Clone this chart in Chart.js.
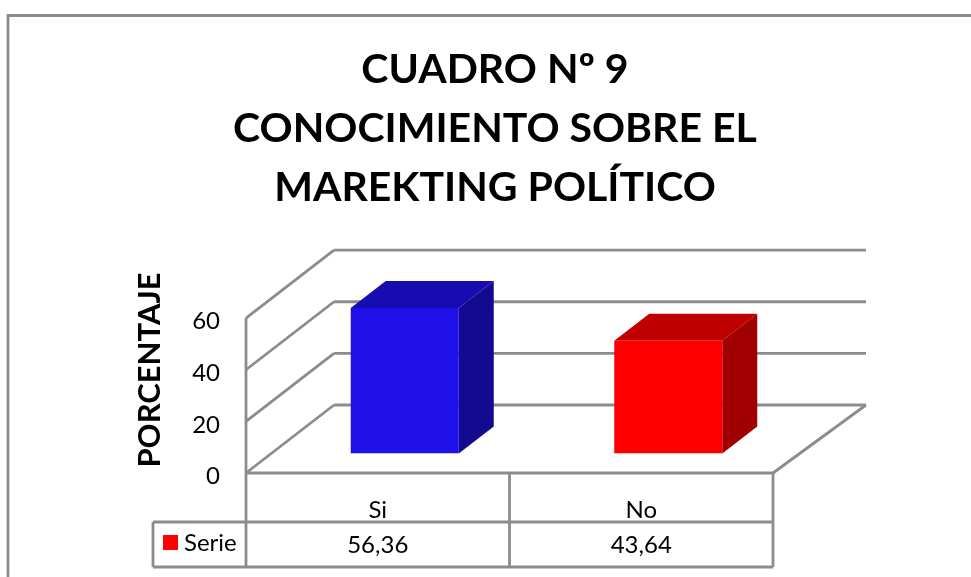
<!DOCTYPE html>
<html>
<head>
<meta charset="utf-8">
<title>Cuadro 9</title>
<script src="https://cdn.jsdelivr.net/npm/chart.js@4"></script>
<style>
    html, body { margin: 0; padding: 0; background: #fff; }
    canvas { display: block; }
</style>
</head>
<body>
<canvas id="grafico" width="971" height="577"></canvas>
<script>
var categories = ['Si', 'No'];
var seriesName = 'Serie';
var seriesValues = [56.36, 43.64];
var titleLines = ['CUADRO Nº 9', 'CONOCIMIENTO SOBRE EL', 'MAREKTING POLÍTICO'];
var yAxisTitle = 'PORCENTAJE';
var yTicks = [0, 20, 40, 60];
var faceColors = ['#2010e8', '#ff0000'];
var topColors = ['#160cb0', '#c00000'];
var sideColors = ['#140a90', '#a00000'];

var FONT = 'Lato, Carlito, sans-serif';
var LINE = '#8c8c8c';
var LINE_WIDTH = 2.8;

// 3D look: how far the back wall and the bars are pushed away from the front plane
var WALL_DX = 88, WALL_DY = -68;
var BAR_DX = 27, BAR_DY = -19.5;
var DEPTH_DX = 35, DEPTH_DY = -27;

function line(ctx, x1, y1, x2, y2) {
    ctx.beginPath();
    ctx.moveTo(x1, y1);
    ctx.lineTo(x2, y2);
    ctx.stroke();
}

var walls = {
    id: 'walls',
    beforeDraw: function (chart) {
        // the y scale is kept narrow so the title centres right; widen its clip for the tick labels
        chart.scales.y.left = 170;
    },
    beforeDatasetsDraw: function (chart) {
        var ctx = chart.ctx, a = chart.chartArea, y = chart.scales.y;
        ctx.save();
        ctx.strokeStyle = LINE;
        ctx.lineWidth = LINE_WIDTH;

        // outer frame, only left and top are inside the picture
        ctx.beginPath();
        ctx.moveTo(8, 577);
        ctx.lineTo(8, 15.5);
        ctx.lineTo(971, 15.5);
        ctx.stroke();

        yTicks.forEach(function (t) {
            var py = y.getPixelForValue(t);
            line(ctx, a.left, py, a.left + WALL_DX, py + WALL_DY);
            line(ctx, a.left + WALL_DX, py + WALL_DY, a.right + WALL_DX + 5, py + WALL_DY);
        });
        line(ctx, a.left, y.getPixelForValue(60), a.left, y.getPixelForValue(0));
        line(ctx, a.left, a.bottom, a.right, a.bottom);
        line(ctx, a.right, a.bottom, a.right + WALL_DX + 5, a.bottom + WALL_DY);
        ctx.restore();
    }
};

var bars3d = {
    id: 'bars3d',
    beforeDatasetDraw: function (chart, args) {
        var ctx = chart.ctx;
        ctx.save();
        ctx.translate(BAR_DX, BAR_DY);
        args.meta.data.forEach(function (bar, i) {
            var p = bar.getProps(['x', 'y', 'base', 'width'], true);
            var l = p.x - p.width / 2, r = p.x + p.width / 2;
            ctx.fillStyle = topColors[i];
            ctx.beginPath();
            ctx.moveTo(l, p.y);
            ctx.lineTo(l + DEPTH_DX, p.y + DEPTH_DY);
            ctx.lineTo(r + DEPTH_DX, p.y + DEPTH_DY);
            ctx.lineTo(r, p.y);
            ctx.fill();
            ctx.fillStyle = sideColors[i];
            ctx.beginPath();
            ctx.moveTo(r, p.y);
            ctx.lineTo(r + DEPTH_DX, p.y + DEPTH_DY);
            ctx.lineTo(r + DEPTH_DX, p.base + DEPTH_DY);
            ctx.lineTo(r, p.base);
            ctx.fill();
        });
    },
    afterDatasetDraw: function (chart) {
        chart.ctx.restore();
    }
};

var dataTable = {
    id: 'dataTable',
    afterDraw: function (chart) {
        var ctx = chart.ctx, a = chart.chartArea, x = chart.scales.x;
        var rowTop = 522, rowBottom = 567, legendLeft = 153;
        var mid = (x.getPixelForValue(0) + x.getPixelForValue(1)) / 2;
        ctx.save();
        ctx.strokeStyle = LINE;
        ctx.lineWidth = LINE_WIDTH;
        [a.left, mid, a.right].forEach(function (px) {
            line(ctx, px, a.bottom, px, rowBottom);
        });
        line(ctx, legendLeft, rowTop, a.right, rowTop);
        line(ctx, legendLeft, rowBottom, a.right, rowBottom);
        line(ctx, legendLeft, rowTop, legendLeft, rowBottom);

        ctx.fillStyle = '#ff0000';
        ctx.fillRect(163, 535, 15, 15);

        ctx.fillStyle = '#000';
        ctx.font = '24px ' + FONT;
        ctx.textBaseline = 'middle';
        ctx.textAlign = 'left';
        ctx.fillText(seriesName, 184, 543);
        ctx.textAlign = 'center';
        seriesValues.forEach(function (v, i) {
            ctx.fillText(String(v).replace('.', ','), x.getPixelForValue(i), 545);
        });

        // axis title sits above the centre of the axis, so it is placed by hand
        ctx.translate(150, 370);
        ctx.rotate(-Math.PI / 2);
        ctx.font = 'bold 31px ' + FONT;
        ctx.fillText(yAxisTitle, 0, 0);
        ctx.restore();
    }
};

var ctx = document.getElementById('grafico').getContext('2d');
var chart = new Chart(ctx, {
    type: 'bar',
    data: {
        labels: categories,
        datasets: [{
            label: seriesName,
            data: seriesValues,
            backgroundColor: faceColors,
            barPercentage: 0.41,
            categoryPercentage: 1
        }]
    },
    options: {
        responsive: false,
        animation: false,
        layout: {
            padding: { left: 217, right: 198, top: 40, bottom: 50 }
        },
        plugins: {
            legend: { display: false },
            tooltip: { enabled: false },
            title: {
                display: true,
                text: titleLines,
                color: '#000',
                font: { family: FONT, size: 41, weight: 'bold', lineHeight: 1.44 },
                padding: { top: 0, bottom: 101 }
            }
        },
        scales: {
            x: {
                grid: { display: false },
                border: { display: false },
                ticks: {
                    color: '#000',
                    padding: 15,
                    maxRotation: 0,
                    font: { family: FONT, size: 24 }
                },
                afterFit: function (scale) { scale.height = 54; }
            },
            y: {
                min: 0,
                max: 60,
                grid: { display: false },
                border: { display: false },
                afterBuildTicks: function (scale) {
                    scale.ticks = yTicks.map(function (t) { return { value: t }; });
                },
                ticks: {
                    color: '#000',
                    padding: 18,
                    font: { family: FONT, size: 24, lineHeight: 0.3 },
                    // blank first line pushes the number down a few pixels off the tick
                    callback: function (value) { return ['', String(value)]; }
                },
                afterFit: function (scale) { scale.width = 29; }
            }
        }
    },
    plugins: [walls, bars3d, dataTable]
});
</script>
</body>
</html>
